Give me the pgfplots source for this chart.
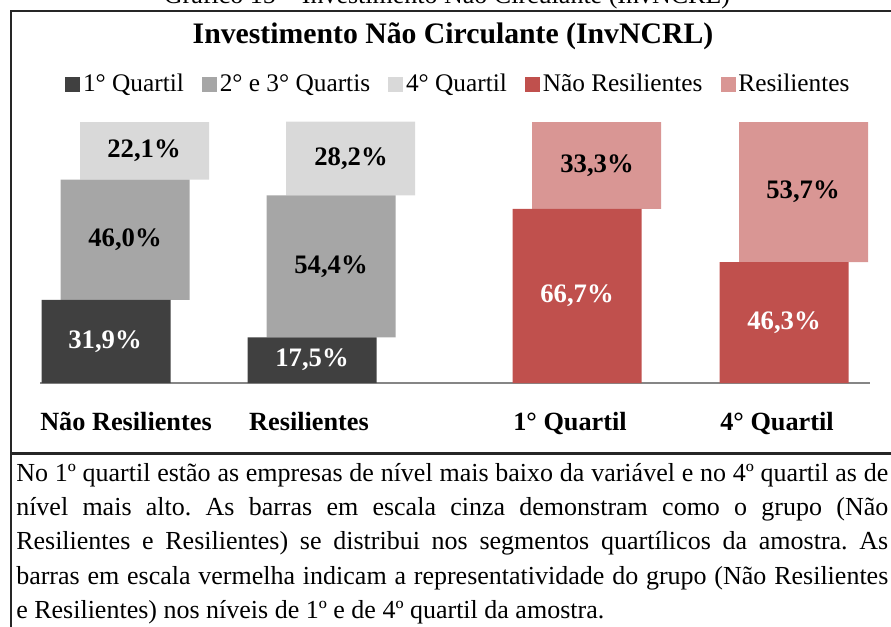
\documentclass[border=0pt]{standalone}
\usepackage{fontspec}
\setmainfont{Liberation Serif}
\usepackage{pgfplots}
\pgfplotsset{compat=1.18}
\usepackage{pgfplotstable}
\definecolor{q1}{HTML}{404040}
\definecolor{q23}{HTML}{A6A6A6}
\definecolor{q4}{HTML}{D9D9D9}
\definecolor{nres}{HTML}{C0504D}
\definecolor{res}{HTML}{D99694}
\definecolor{axgray}{HTML}{868686}

\pgfplotstableread{
x q1 q23 q4
106 31.9 46.0 22.1
312 17.5 54.4 28.2
}\graydata
\pgfplotstableread{
x nres res
577 66.7 33.3
784 46.3 53.7
}\reddata
% label positions: middle of each segment
\pgfplotstableread{
x y lab
105 15.95 31,9
312 8.75 17,5
577 33.35 66,7
784 23.15 46,3
}\whitelab
\pgfplotstableread{
x y lab
125 54.9 46,0
144 88.95 22,1
331 44.7 54,4
351 86.0 28,2
597 83.35 33,3
803 73.15 53,7
}\blacklab

\pgfplotsset{
  base/.style={at={(A)}, anchor=south west, x=0.75pt, y=1.9575pt,
    xmin=40, xmax=870, ymin=0, ymax=100, clip=false},
  sq/.style={legend image code/.code={\fill[#1] (0pt,-5.25pt) rectangle (10.5pt,5.25pt);}},
}
\frenchspacing

\begin{document}
\begin{tikzpicture}
\begin{scope}[x=0.75pt,y=-0.75pt]
\path[use as bounding box] (0,0) rectangle (891,626);
\coordinate (A) at (40,383);
\draw[line width=1.6pt, black!85] (10.7,11) -- (905,11);
\draw[line width=1.6pt, black!85] (10.7,10.2) -- (10.7,640);
\draw[line width=1.6pt, black!85] (10.7,453.5) -- (905,453.5);
\node[anchor=base, inner sep=0pt, font=\fontsize{19.5}{24}\selectfont] at (447,3.5) {Gráfico 15 – Investimento Não Circulante (InvNCRL)};
\node[anchor=base, inner sep=0pt, font=\bfseries\fontsize{22.3}{26}\selectfont] at (453,43) {Investimento Não Circulante (InvNCRL)};
\begin{scope}[every node/.style={anchor=base west, inner sep=0pt, font=\fontsize{19.5}{24}\selectfont}]
\node at (16,481) {\makebox[654pt][s]{No 1º quartil estão as empresas de nível mais baixo da variável e no 4º quartil as de}};
\node at (16,515) {\makebox[654pt][s]{nível mais alto. As barras em escala cinza demonstram como o grupo (Não}};
\node at (16,549) {\makebox[654pt][s]{Resilientes e Resilientes) se distribui nos segmentos quartílicos da amostra. As}};
\node at (16,584) {\makebox[654pt][s]{barras em escala vermelha indicam a representatividade do grupo (Não Resilientes}};
\node at (16,618) {e Resilientes) nos níveis de 1º e de 4º quartil da amostra.};
\end{scope}
\end{scope}

% grey stacked bars, axis line, category labels, legend
\begin{axis}[base, ybar stacked, bar width=129,
  axis y line=none, axis x line*=bottom,
  x axis line style={draw=axgray, line width=0.9pt, -},
  xtick={126,309,570,777},
  xticklabels={Não Resilientes, Resilientes, 1° Quartil, 4° Quartil},
  xtick style={draw=none}, major tick length=0pt,
  xticklabel style={anchor=base, yshift=-35.25pt, inner sep=0pt,
    font=\bfseries\fontsize{19.7}{23}\selectfont},
  legend style={at={(axis cs:459,114.6)}, anchor=center, draw=none, fill=none,
    legend columns=-1, font=\fontsize{19}{22}\selectfont,
    nodes={inner xsep=2.5pt, inner ysep=0pt},
    /tikz/every even column/.append style={column sep=11pt}},
  legend cell align=left,
]
\addplot[fill=q1, draw=none, bar shift=0, forget plot] table[x=x,y=q1]{\graydata};
\addplot[fill=q23, draw=none, bar shift=19, forget plot] table[x=x,y=q23]{\graydata};
\addplot[fill=q4, draw=none, bar shift=38.5, forget plot] table[x=x,y=q4]{\graydata};
\addlegendimage{sq=q1}\addlegendentry{1° Quartil}
\addlegendimage{sq=q23}\addlegendentry{2° e 3° Quartis}
\addlegendimage{sq=q4}\addlegendentry{4° Quartil\hspace{10pt}}
\addlegendimage{sq=nres}\addlegendentry{Não Resilientes}
\addlegendimage{sq=res}\addlegendentry{Resilientes}
\end{axis}

% red stacked bars
\begin{axis}[base, ybar stacked, bar width=129, hide axis]
\addplot[fill=nres, draw=none, bar shift=0] table[x=x,y=nres]{\reddata};
\addplot[fill=res, draw=none, bar shift=19.5] table[x=x,y=res]{\reddata};
\end{axis}

% value labels, centred in each segment
\begin{axis}[base, hide axis, nodes near coords={\pgfplotspointmeta\%},
  point meta=explicit symbolic,
  every node near coord/.append style={anchor=center, inner sep=0pt,
    font=\bfseries\fontsize{20}{24}\selectfont}]
\addplot[draw=none, mark=none, every node near coord/.append style={text=white}]
  table[x=x,y=y,meta=lab]{\whitelab};
\addplot[draw=none, mark=none, every node near coord/.append style={text=black}]
  table[x=x,y=y,meta=lab]{\blacklab};
\end{axis}
\end{tikzpicture}
\end{document}
